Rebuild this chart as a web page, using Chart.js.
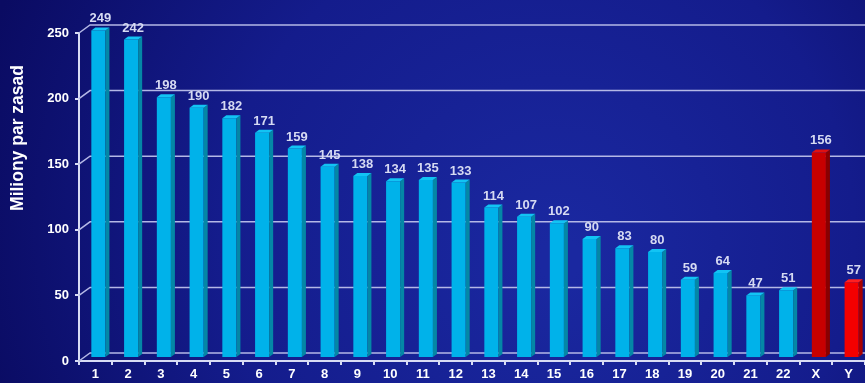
<!DOCTYPE html>
<html>
<head>
<meta charset="utf-8">
<script src="https://cdn.jsdelivr.net/npm/chart.js@4"></script>
<style>
  html, body { margin: 0; padding: 0; background: #0e1272; }
  #wrap { width: 865px; height: 383px; }
</style>
</head>
<body>
<div id="wrap"><canvas id="myChart" width="865" height="383"></canvas></div>
<script>
const chromosomes = ['1','2','3','4','5','6','7','8','9','10','11','12','13','14','15','16','17','18','19','20','21','22','X','Y'];
const basePairs = [249,242,198,190,182,171,159,145,138,134,135,133,114,107,102,90,83,80,59,64,47,51,156,57];
const yTicks = [0, 50, 100, 150, 200, 250];
const yTitle = 'Miliony par zasad';

const frontColor = chromosomes.map(c => c === 'X' ? '#c80000' : (c === 'Y' ? '#f40000' : '#00b2ea'));
const sideColor = chromosomes.map(c => c === 'X' ? '#8a0000' : (c === 'Y' ? '#a80000' : '#0487a6'));
const topColor = chromosomes.map(c => c === 'X' ? '#e01010' : (c === 'Y' ? '#ff2020' : '#12c4f4'));

const DX = 11, DY = 8;     // back wall offset
const BX = 3;              // bar shift
const SD = 4, SH = 3;      // bar depth

const bgPlugin = {
  id: 'bg',
  beforeDraw(chart) {
    const ctx = chart.ctx;
    const g = ctx.createRadialGradient(560, 260, 20, 520, 220, 560);
    g.addColorStop(0, '#1a28a0');
    g.addColorStop(0.55, '#141c8c');
    g.addColorStop(1, '#0a0b62');
    ctx.save();
    ctx.fillStyle = g;
    ctx.fillRect(0, 0, chart.width, chart.height);
    // axis title
    ctx.translate(18, 138);
    ctx.rotate(-Math.PI / 2);
    ctx.font = 'bold 17.5px "Liberation Sans", Arial, sans-serif';
    ctx.fillStyle = '#ffffff';
    ctx.textAlign = 'center';
    ctx.textBaseline = 'middle';
    ctx.fillText(yTitle, 0, 0);
    ctx.restore();
  }
};

const wallPlugin = {
  id: 'wall',
  beforeDatasetsDraw(chart) {
    const ctx = chart.ctx;
    const y = chart.scales.y;
    const area = chart.chartArea;
    ctx.save();
    ctx.strokeStyle = '#b4b8e6';
    ctx.lineWidth = 1.5;
    yTicks.forEach(v => {
      const py = y.getPixelForValue(v);
      ctx.beginPath();
      ctx.moveTo(area.left, py);
      ctx.lineTo(area.left + DX, py - DY);
      ctx.lineTo(chart.width, py - DY);
      ctx.stroke();
    });
    ctx.restore();
  },
  beforeDatasetDraw(chart) {
    chart.ctx.save();
    chart.ctx.translate(BX, 0);
  },
  afterDatasetDraw(chart, args) {
    const ctx = chart.ctx;
    args.meta.data.forEach((bar, i) => {
      const p = bar.getProps(['x', 'y', 'base', 'width'], true);
      const l = p.x - p.width / 2, r = p.x + p.width / 2;
      ctx.fillStyle = sideColor[i];
      ctx.beginPath();
      ctx.moveTo(r, p.y);
      ctx.lineTo(r + SD, p.y - SH);
      ctx.lineTo(r + SD, p.base - SH);
      ctx.lineTo(r, p.base);
      ctx.closePath();
      ctx.fill();
      ctx.fillStyle = topColor[i];
      ctx.beginPath();
      ctx.moveTo(l, p.y);
      ctx.lineTo(l + SD, p.y - SH);
      ctx.lineTo(r + SD, p.y - SH);
      ctx.lineTo(r, p.y);
      ctx.closePath();
      ctx.fill();
    });
    ctx.restore();
  },
  afterDatasetsDraw(chart) {
    const ctx = chart.ctx;
    const meta = chart.getDatasetMeta(0);
    ctx.save();
    ctx.font = 'bold 13px "Liberation Sans", Arial, sans-serif';
    ctx.fillStyle = '#d6daf2';
    ctx.textAlign = 'center';
    ctx.textBaseline = 'bottom';
    meta.data.forEach((bar, i) => {
      const p = bar.getProps(['x', 'y'], true);
      ctx.fillText(String(basePairs[i]), p.x + BX + 2, p.y - 5);
    });
    ctx.restore();
  }
};

const data = {
  labels: chromosomes,
  datasets: [{
    data: basePairs,
    backgroundColor: frontColor,
    borderWidth: 0,
    yAxisID: 'yb',
    categoryPercentage: 1,
    barPercentage: 0.43,
    clip: false
  }]
};

const config = {
  type: 'bar',
  data: data,
  options: {
    responsive: false,
    animation: false,
    layout: { padding: { top: 33, right: 0, left: 0, bottom: 0 } },
    plugins: { legend: { display: false }, tooltip: { enabled: false } },
    scales: {
      x: {
        afterFit(s) { s.height = 22; },
        grid: { display: true, drawOnChartArea: false, offset: true, tickLength: 4, color: '#d8dcf4', lineWidth: 2 },
        border: { display: true, color: '#d8dcf4', width: 2 },
        ticks: { color: '#ffffff', font: { family: '"Liberation Sans", Arial, sans-serif', size: 13, weight: 'bold' }, padding: 2, maxRotation: 0, autoSkip: false }
      },
      y: {
        min: 0,
        max: 250,
        afterFit(s) { s.width = 79; },
        afterBuildTicks(s) { s.ticks = yTicks.map(v => ({ value: v })); },
        grid: { display: true, drawOnChartArea: false, tickLength: 4, color: '#d8dcf4', lineWidth: 2 },
        border: { display: true, color: '#d8dcf4', width: 2 },
        ticks: { color: '#ffffff', font: { family: '"Liberation Sans", Arial, sans-serif', size: 13, weight: 'bold' }, padding: 6 }
      },
      yb: {
        display: false,
        min: -3,
        max: 247
      }
    }
  },
  plugins: [bgPlugin, wallPlugin]
};

const myChart = new Chart(document.getElementById('myChart'), config);
</script>
</body>
</html>
